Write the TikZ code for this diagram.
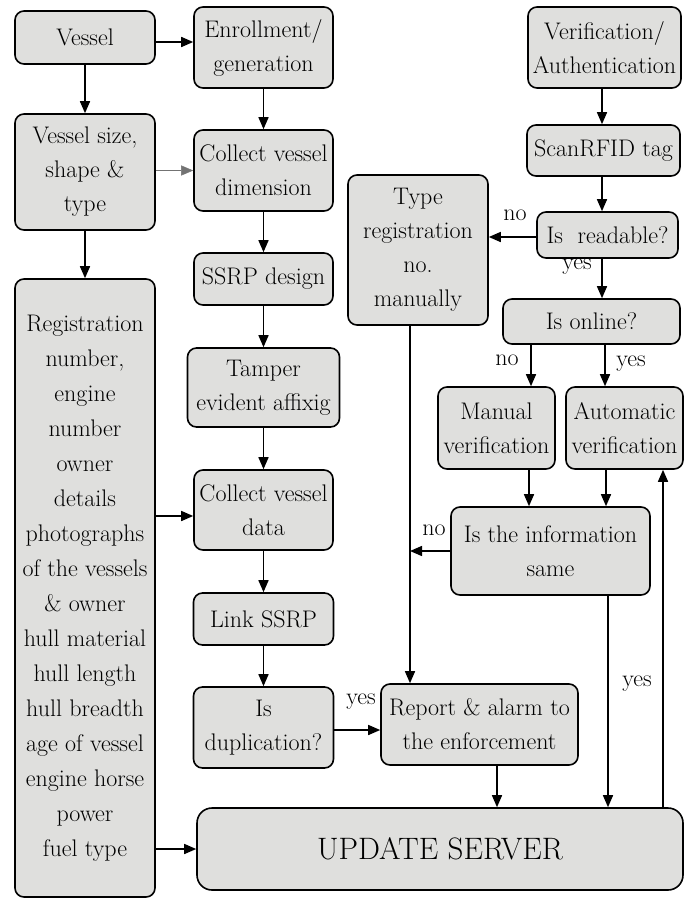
\documentclass[tikz,border=0pt]{standalone}
\usepackage{tikz}
\usetikzlibrary{arrows.meta,calc}

\definecolor{boxfill}{RGB}{223,223,221}

\tikzset{
  box/.style={draw=black, line width=1.6pt, fill=boxfill, rounded corners=9pt,
    align=center, inner sep=0pt, font=\fontsize{24}{34}\selectfont},
  arr/.style={-{Triangle[length=12pt,width=10pt]}, line width=1.5pt},
  thinarr/.style={-{Triangle[length=12pt,width=10pt]}, line width=0.5pt, draw=black!55},
  lbl/.style={inner sep=0pt, font=\fontsize{24}{34}\selectfont}
}

\begin{document}
\begin{tikzpicture}[x=1pt,y=-1pt]
\useasboundingbox (0,0) rectangle (694,899);

% left column
\node[box, minimum width=140, minimum height=53]  (vessel) at (85,37.5) {Vessel};
\node[box, minimum width=140, minimum height=116] (size)   at (85,172)  {Vessel size,\\shape \&\\type};
\node[box, minimum width=140, minimum height=618, font=\fontsize{24}{35}\selectfont] (regno) at (85,588)
  {Registration\\number,\\engine\\number\\owner\\details\\photographs\\of the vessels\\\& owner\\hull material\\hull length\\hull breadth\\age of vessel\\engine horse\\power\\fuel type};

% enrollment column
\node[box, minimum width=139, minimum height=81] (enroll) at (263.5,47.5) {Enrollment/\\generation};
\node[box, minimum width=139, minimum height=81] (dimen)  at (263.5,170.5) {Collect vessel\\dimension};
\node[box, minimum width=139, minimum height=52] (ssrp)   at (263.5,279) {SSRP design};
\node[box, minimum width=152, minimum height=79] (tamper) at (263.5,387.5) {Tamper\\evident affixig};
\node[box, minimum width=139, minimum height=80] (vdata)  at (263.5,510) {Collect vessel\\data};
\node[box, minimum width=140, minimum height=52] (link)   at (263.5,619) {Link SSRP};
\node[box, minimum width=140, minimum height=81] (dup)    at (263.5,727.5) {Is\\duplication?};

% verification column
\node[box, minimum width=153, minimum height=81] (verif)  at (604.5,47.5) {Verification/\\Authentication};
\node[box, minimum width=153, minimum height=51] (scan)   at (603.5,150.5) {ScanRFID tag};
\node[box, minimum width=141, minimum height=46] (read)   at (607.5,235) {Is~ readable?};
\node[box, minimum width=140, minimum height=150] (typereg) at (418,250) {Type\\registration\\no.\\manually};
\node[box, minimum width=177, minimum height=45] (online) at (591.5,321.5) {Is online?};
\node[box, minimum width=117, minimum height=82] (manual) at (496.5,428) {Manual\\verification};
\node[box, minimum width=117, minimum height=82] (auto)   at (624.5,428) {Automatic\\verification};
\node[box, minimum width=199, minimum height=88] (same)   at (550.5,551) {Is the information\\same};
\node[box, minimum width=197, minimum height=81] (report) at (479.5,724.5) {Report \& alarm to\\the enforcement};
\node[box, minimum width=486, minimum height=82, rounded corners=15pt, font=\fontsize{31}{34}\selectfont] (server) at (440,849) {UPDATE SERVER};

% left connectors
\draw[arr] ([yshift=-4.5]vessel.east) -- ([yshift=-4.5]vessel.east -| enroll.west);
\draw[arr] (vessel) -- (size);
\draw[thinarr] (size.east |- dimen) -- (dimen.west);
\draw[arr] (size) -- (regno);
\draw[arr] ([yshift=-6]regno.east |- vdata) -- ([yshift=-6]vdata.west);
\draw[arr] (regno.east |- server) -- (server.west);

% enrollment chain
\foreach \a/\b in {enroll/dimen, dimen/ssrp, ssrp/tamper, tamper/vdata, vdata/link, link/dup}
  \draw[arr] (\a) -- (\b);
\draw[arr] ([yshift=-2.5]dup.east) -- ([yshift=-2.5]dup.east -| report.west);
\node[lbl] (ldup) at (361,702) {yes};

% verification chain
\draw[arr] ([xshift=-2.5]verif.south) -- ([xshift=-1.5]scan.north);
\draw[arr] ([xshift=-1.5]scan.south) -- ([xshift=-1.5]scan.south |- read.north);
\draw[arr] ([yshift=-2]read.west) -- ([yshift=-2]read.west -| typereg.east);
\node[lbl] (lread) at (515,215) {no};
\draw[arr] ([xshift=-1.5]scan.south |- read.south) -- ([xshift=-1.5]scan.south |- online.north);
\node[lbl] (lyes1) at (577,267) {yes};
\draw[arr] ([xshift=-60.5]online.south) -- ([xshift=-60.5]online.south |- manual.north);
\node[lbl] (lno1) at (507,360) {no};
\draw[arr] ([xshift=13.5]online.south) -- ([xshift=13.5]online.south |- auto.north);
\node[lbl] (lyes2) at (631,364) {yes};
\draw[arr] ([xshift=32.5]manual.south) -- ([xshift=32.5]manual.south |- same.north);
\draw[arr] ([xshift=-18.5]auto.south) -- ([xshift=-18.5]auto.south |- same.north);

% back to the report and the server
\coordinate (noline) at ([xshift=-8]typereg.south);
\draw[arr] (noline) -- (noline |- report.north);
\draw[arr] (same.west) -- (same.west -| noline);
\node[lbl] (lno2) at (434,530) {no};
\draw[arr] ([xshift=57.5]same.south) -- ([xshift=57.5]same.south |- server.north);
\node[lbl] (lyes3) at (637,684) {yes};
\draw[arr] ([xshift=17.5]report.south) -- ([xshift=17.5]report.south |- server.north);
\draw[arr] ([xshift=38.5]auto.south |- server.north) -- ([xshift=38.5]auto.south);
\end{tikzpicture}
\end{document}
